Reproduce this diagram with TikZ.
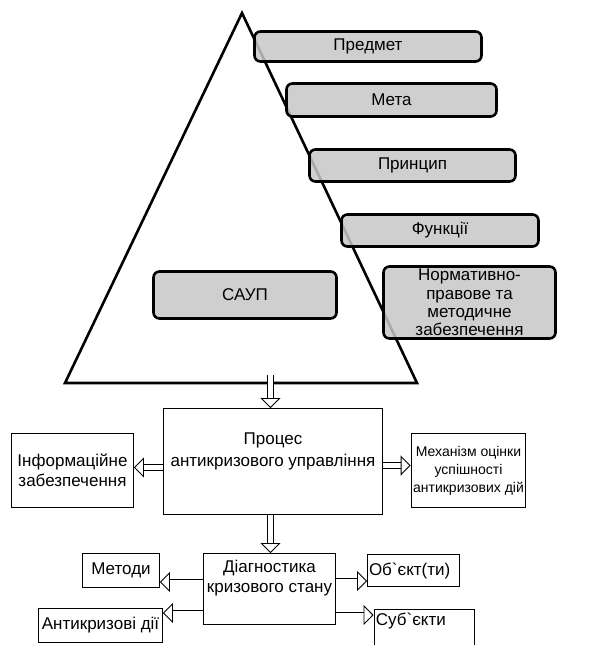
\documentclass[tikz,border=0pt]{standalone}
\usepackage{fontspec}
\setmainfont{Liberation Sans}
\usetikzlibrary{arrows.meta}

\begin{document}
\begin{tikzpicture}[x=1pt, y=-1pt,
    font=\fontsize{17}{20}\selectfont,
    part/.style={draw, line width=2.6pt, rounded corners=6pt, fill=black!22,
        fill opacity=0.85, text opacity=1, align=center, inner sep=0pt},
    block/.style={draw, line width=0.9pt, align=center, inner sep=2pt},
    hollow/.style={double, double distance=5pt, line width=0.9pt,
        -{Triangle[open, length=10pt, width=20pt]}}]

    \useasboundingbox (0,0) rectangle (594,645);
    \clip (0,0) rectangle (594,645);

    % pyramid
    \coordinate (apex) at (242,13);
    \coordinate (left) at (65,383);
    \coordinate (right) at (417,383);
    \draw[line width=2.6pt] (apex) -- (right) -- (left) -- cycle;

    \node[part, minimum width=227, minimum height=30] (subj) at (368,46.5) {Предмет};
    \node[part, minimum width=210, minimum height=33] (goal) at (391.5,100) {Мета};
    \node[part, minimum width=206, minimum height=32] (princ) at (412.5,165.5) {Принцип};
    \node[part, minimum width=197, minimum height=32] (func) at (440,230.5) {Функції};
    \node[part, minimum width=172, minimum height=72,
        font=\fontsize{17}{18.3}\selectfont] (norms) at (469.5,302.5)
        {Нормативно-\\правове та\\методичне\\забезпечення};
    \node[part, minimum width=183, minimum height=47] (saup) at (245,295) {САУП};

    % process
    \node[block, minimum width=219, minimum height=106] (proc) at (273,461.5) {};
    \node[align=center] (proclbl) at (273,451) {Процес\\[2pt]антикризового управління};
    \node[block, minimum width=122, minimum height=74] (info) at (72.5,470.5)
        {Інформаційне\\забезпечення};
    \node[block, minimum width=112, minimum height=74,
        font=\fontsize{14}{18}\selectfont] (mech) at (468.5,470.5)
        {Механізм оцінки\\успішності\\антикризових дій};

    % diagnostics
    \node[block, minimum width=132, minimum height=71] (diag) at (269.5,589) {};
    \node[align=center] (diaglbl) at (269.5,578) {Діагностика\\кризового стану};
    \node[block, minimum width=77, minimum height=34] (meth) at (121,570.5) {Методи};
    \node[block, minimum width=124, minimum height=34] (acts) at (100.5,625.5) {Антикризові дії};
    \node[block, text width=89pt, minimum height=32, inner sep=1.5pt, align=left]
        (obj) at (413.5,570.5) {Об\textasciigrave єкт(ти)};
    \node[block, anchor=north west, inner sep=2pt, text width=96pt, align=left,
        text height=15pt, text depth=30pt] (subjs) at (373.5,608.5)
        {Суб\textasciigrave єкти};

    % arrows
    \coordinate (top) at (270.5,375);
    \draw[hollow] (top) -- (top |- proc.north);
    \draw[hollow] ([yshift=-6pt]proc.west) -- ([yshift=-6pt]proc.west -| info.east);
    \draw[hollow] ([yshift=-4pt]proc.east) -- ([yshift=-4pt]proc.east -| mech.west);
    \draw[hollow] ([xshift=-2.5pt]proc.south) -- ([xshift=-2.5pt]proc.south |- diag.north);
    \draw[hollow] ([yshift=7pt]diag.west) -- ([yshift=7pt]diag.west -| meth.east);
    \draw[hollow] ([yshift=-24pt]diag.west) -- ([yshift=-24pt]diag.west -| acts.east);
    \draw[hollow] ([yshift=8pt]diag.east) -- ([yshift=8pt]diag.east -| obj.west);
    \draw[hollow] ([yshift=-26pt]diag.east) -- ([yshift=-26pt]diag.east -| subjs.west);

\end{tikzpicture}
\end{document}
